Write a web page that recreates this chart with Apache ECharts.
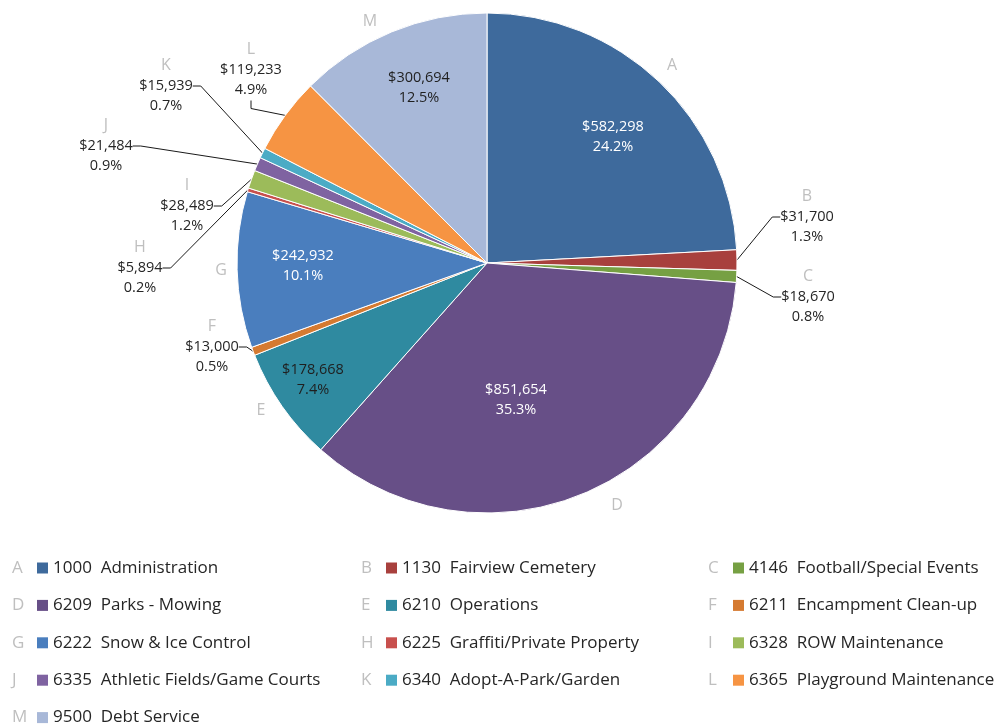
<!DOCTYPE html>
<html><head><meta charset="utf-8">
<script src="https://cdn.jsdelivr.net/npm/echarts@6/dist/echarts.min.js"></script>
<style>html,body{margin:0;padding:0;background:#fff}#c{width:1000px;height:724px}</style>
</head><body><div id="c"></div>
<script>
// ---- data ----
const letters = ['A','B','C','D','E','F','G','H','I','J','K','L','M'];
const codes = ['1000','1130','4146','6209','6210','6211','6222','6225','6328','6335','6340','6365','9500'];
const names = ['Administration','Fairview Cemetery','Football/Special Events','Parks - Mowing','Operations','Encampment Clean-up','Snow & Ice Control','Graffiti/Private Property','ROW Maintenance','Athletic Fields/Game Courts','Adopt-A-Park/Garden','Playground Maintenance','Debt Service'];
const values = [582298,31700,18670,851654,178668,13000,242932,5894,28489,21484,15939,119233,300694];

// ---- style / layout ----
const colors = ['#3E6A9C','#A8403D','#76A043','#674F87','#2F8AA0','#D57A31','#4A7EBE','#C8504D','#9CBB5A','#7F63A1','#4BABC5','#F69443','#A8B8D8'];
const insideText = {0:'#ffffff',3:'#ffffff',4:'#1f1f1f',6:'#ffffff',12:'#1f1f1f'};
const labelPos = {0:[613,137],1:[807,217],2:[808,297],3:[516,400],4:[313,380],5:[212,347],6:[303,266],
  7:[140,268],8:[187,206],9:[106,146],10:[166,86],11:[251,70],12:[419,88]};
const letterPos = {0:[672,65],3:[617,505],4:[261,410],6:[221,270],12:[370,21]};
const FONT = 'Open Sans';

const fullNames = codes.map((c,i)=>c+'  '+names[i]);
const total = values.reduce((a,b)=>a+b,0);
const money = v => '$' + v.toLocaleString('en-US');
const pct = v => (v/total*100).toFixed(1) + '%';

const mainData = values.map((v,i)=>{
  const inside = insideText[i] !== undefined;
  return {
    name: fullNames[i], value: v,
    itemStyle: {color: colors[i]},
    label: inside ? {position:'inside', color: insideText[i], formatter: money(v)+'\n'+pct(v)}
                  : {position:'outside', formatter: '{l|'+letters[i]+'}\n{v|'+money(v)+'}\n{v|'+pct(v)+'}'},
    labelLine: {show: !inside}
  };
});
const letterData = values.map((v,i)=>({
  name: fullNames[i], value: v,
  label: {show: letterPos[i] !== undefined, formatter: letters[i]}
}));

const rich = {l:{color:'#BFBFBF',fontSize:17,fontFamily:FONT,width:25,align:'left',lineHeight:20},
  t:{color:'#262626',fontSize:17,fontFamily:FONT,padding:[0,0,0,5],lineHeight:20}};
colors.forEach((c,i)=>{ rich['s'+i] = {width:11,height:11,backgroundColor:c}; });

function legendCol(idx, left){
  return {orient:'vertical', left:left, top:558, height:220, padding:0, itemWidth:0, itemHeight:20, itemGap:18.9, icon:'none',
    selectedMode:false, data: idx.map(i=>fullNames[i]),
    formatter: n => { const i = fullNames.indexOf(n); return '{l|'+letters[i]+'}{s'+i+'|}{t|'+n+'}'; },
    textStyle:{rich: rich, fontFamily:FONT, fontSize:17}};
}

const chart = echarts.init(document.getElementById('c'), null, {renderer:'canvas'});
chart.setOption({
  animation:false,
  backgroundColor:'#ffffff',
  legend:[legendCol([0,3,6,9,12],7), legendCol([1,4,7,10],356), legendCol([2,5,8,11],703)],
  series:[{
    type:'pie', center:[487,263], radius:[0,250], startAngle:90, clockwise:true,
    avoidLabelOverlap:false, silent:true,
    itemStyle:{borderColor:'#ffffff', borderWidth:1},
    label:{fontFamily:FONT, fontSize:14.5, lineHeight:20.5, color:'#262626', align:'center',
      rich:{l:{color:'#BFBFBF',fontSize:16,fontFamily:FONT,lineHeight:20,align:'center'},
            v:{color:'#262626',fontSize:14.5,fontFamily:FONT,lineHeight:20.5,align:'center'}}},
    labelLine:{length:10, length2:8, lineStyle:{color:'#1a1a1a', width:1}},
    labelLayout: p => { const q = labelPos[p.dataIndex]; return {x:q[0], y:q[1], align:'center', verticalAlign:'middle'}; },
    data: mainData
  },{
    type:'pie', center:[487,263], radius:[0,250], startAngle:90, clockwise:true,
    avoidLabelOverlap:false, silent:true,
    itemStyle:{color:'rgba(0,0,0,0)', borderWidth:0},
    label:{position:'inside', color:'#BFBFBF', fontFamily:FONT, fontSize:16},
    labelLine:{show:false},
    labelLayout: p => { const q = letterPos[p.dataIndex]; return q ? {x:q[0], y:q[1], align:'center', verticalAlign:'middle'} : {}; },
    data: letterData
  }]
});
</script></body></html>
